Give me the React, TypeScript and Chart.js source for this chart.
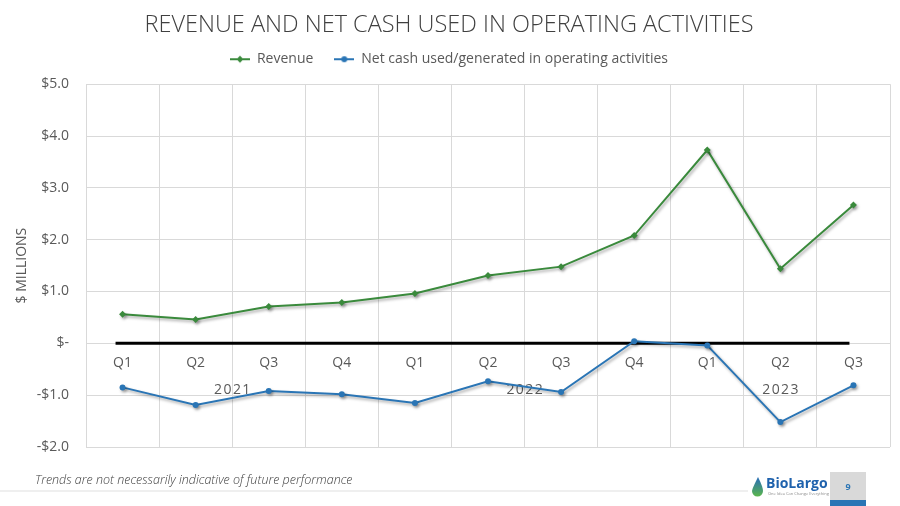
import React, { useEffect, useRef } from "react";
import { Chart, registerables } from "chart.js";

Chart.register(...registerables);

const quarters = ["Q1", "Q2", "Q3", "Q4", "Q1", "Q2", "Q3", "Q4", "Q1", "Q2", "Q3"];
const yearLabels = ["2021", "2022", "2023"];
const yearSpans = [4, 4, 3];
const revenue = [0.56, 0.46, 0.71, 0.79, 0.96, 1.31, 1.48, 2.08, 3.73, 1.44, 2.67];
const netCash = [-0.85, -1.19, -0.92, -0.98, -1.15, -0.73, -0.94, 0.04, -0.04, -1.52, -0.81];
const yMin = -2;
const yMax = 5;

const GREEN = "#3a8a3c";
const BLUE = "#2a75b5";
const TEXT = "#595959";
const FONT = "'Open Sans', 'Noto Sans', sans-serif";

function legendIcon(color: string, style: string) {
  const c = document.createElement("canvas");
  c.width = 20;
  c.height = 10;
  const ctx = c.getContext("2d")!;
  ctx.strokeStyle = color;
  ctx.lineWidth = 2;
  ctx.beginPath();
  ctx.moveTo(0, 5);
  ctx.lineTo(20, 5);
  ctx.stroke();
  ctx.fillStyle = color;
  ctx.beginPath();
  if (style === "diamond") {
    ctx.moveTo(10, 1.5);
    ctx.lineTo(13.5, 5);
    ctx.lineTo(10, 8.5);
    ctx.lineTo(6.5, 5);
    ctx.closePath();
  } else {
    ctx.arc(10, 5, 3, 0, Math.PI * 2);
  }
  ctx.fill();
  return c;
}

const legendSpacer = {
  id: "legendSpacer",
  beforeInit(chart: any) {
    const legend = chart.legend;
    if (!legend) return;
    const orig = legend.fit;
    legend.fit = function () {
      orig.call(this);
      this.height += 8;
    };
  },
};

const shadowPlugin = {
  id: "lineShadow",
  beforeDatasetDraw(chart: any) {
    const ctx = chart.ctx;
    ctx.save();
    ctx.shadowColor = "rgba(0,0,0,0.35)";
    ctx.shadowOffsetX = 1.5;
    ctx.shadowOffsetY = 2;
    ctx.shadowBlur = 3;
  },
  afterDatasetDraw(chart: any) {
    chart.ctx.restore();
  },
};

const axisPlugin = {
  id: "axisLabels",
  beforeDatasetsDraw(chart: any) {
    const ctx = chart.ctx;
    const x = chart.scales.x;
    const y = chart.scales.y;
    const y0 = y.getPixelForValue(0);
    ctx.save();
    ctx.strokeStyle = "#000000";
    ctx.lineWidth = 3;
    ctx.beginPath();
    ctx.moveTo(x.getPixelForValue(0) - 7, y0);
    ctx.lineTo(x.getPixelForValue(quarters.length - 1) - 4, y0);
    ctx.stroke();

    ctx.fillStyle = TEXT;
    ctx.font = `14px ${FONT}`;
    ctx.textAlign = "center";
    ctx.textBaseline = "middle";
    quarters.forEach((q, i) => {
      ctx.fillText(q, x.getPixelForValue(i), y0 + 20);
    });
    const half = (x.getPixelForValue(1) - x.getPixelForValue(0)) / 2;
    let start = 0;
    yearLabels.forEach((lab, k) => {
      const end = start + yearSpans[k] - 1;
      const cx = (x.getPixelForValue(start) - half + x.getPixelForValue(end) + half) / 2;
      ctx.fillText(lab.split("").join(String.fromCharCode(8202)), cx, y0 + 47);
      start = end + 1;
    });
    ctx.restore();
  },
  afterDraw(chart: any) {
    const ctx = chart.ctx;
    ctx.save();
    ctx.strokeStyle = "#efefef";
    ctx.lineWidth = 2;
    ctx.beginPath();
    ctx.moveTo(0, 491);
    ctx.lineTo(748, 491);
    ctx.stroke();
    ctx.fillStyle = "#404040";
    ctx.font = `italic 300 12.5px ${FONT}`;
    ctx.textAlign = "left";
    ctx.textBaseline = "middle";
    ctx.fillText("Trends are not necessarily indicative of future performance", 35, 480);
    const g = ctx.createLinearGradient(0, 478, 0, 497);
    g.addColorStop(0, "#2a6fb5");
    g.addColorStop(1, "#5cb848");
    ctx.fillStyle = g;
    ctx.beginPath();
    ctx.moveTo(758, 477);
    ctx.quadraticCurveTo(752, 489, 752, 491);
    ctx.arc(757.5, 491, 5.5, Math.PI, 0, true);
    ctx.quadraticCurveTo(763, 487, 758, 477);
    ctx.fill();
    ctx.fillStyle = "#1f62ad";
    ctx.font = `bold 14px ${FONT}`;
    ctx.fillText("BioLargo", 766, 484);
    ctx.fillStyle = "#8a8a8a";
    ctx.font = `4px ${FONT}`;
    ctx.fillText("One Idea Can Change Everything", 768, 494);
    ctx.fillStyle = "#d9d9d9";
    ctx.fillRect(830, 472, 36, 28);
    ctx.fillStyle = BLUE;
    ctx.fillRect(830, 500, 36, 6);
    ctx.fillStyle = "#2a75b5";
    ctx.font = `bold 9px ${FONT}`;
    ctx.textAlign = "center";
    ctx.fillText("9", 848, 487);
    ctx.restore();
  },
};

export default function App() {
  const ref = useRef<HTMLCanvasElement | null>(null);

  useEffect(() => {
    if (!ref.current) return;
    const chart = new Chart(ref.current, {
      type: "line",
      data: {
        labels: quarters,
        datasets: [
          {
            label: "Revenue",
            data: revenue,
            borderColor: GREEN,
            backgroundColor: GREEN,
            borderWidth: 2,
            pointStyle: "rectRot",
            pointRadius: 3.5,
            pointBorderWidth: 0,
            tension: 0,
          },
          {
            label: "Net cash used/generated in operating activities",
            data: netCash,
            borderColor: BLUE,
            backgroundColor: BLUE,
            borderWidth: 2,
            pointStyle: "circle",
            pointRadius: 3,
            pointBorderWidth: 0,
            tension: 0,
          },
        ],
      },
      options: {
        responsive: false,
        animation: false,
        layout: { padding: { left: 8, right: 10, top: 0, bottom: 59 } },
        plugins: {
          title: {
            display: true,
            text: "REVENUE AND NET CASH USED IN OPERATING ACTIVITIES",
            color: "#404040",
            font: { family: FONT, size: 23.5, weight: "300" as any },
            padding: { top: 11, bottom: 3 },
          },
          legend: {
            display: true,
            labels: {
              color: TEXT,
              font: { family: FONT, size: 14 },
              usePointStyle: true,
              pointStyleWidth: 20,
              boxHeight: 10,
              padding: 10,
              generateLabels: () => [
                {
                  text: "Revenue   ",
                  fillStyle: GREEN,
                  strokeStyle: GREEN,
                  pointStyle: legendIcon(GREEN, "diamond") as any,
                  lineWidth: 0,
                  hidden: false,
                  datasetIndex: 0,
                  fontColor: TEXT,
                },
                {
                  text: "Net cash used/generated in operating activities",
                  fillStyle: BLUE,
                  strokeStyle: BLUE,
                  pointStyle: legendIcon(BLUE, "circle") as any,
                  lineWidth: 0,
                  hidden: false,
                  datasetIndex: 1,
                  fontColor: TEXT,
                },
              ],
            },
          },
          tooltip: { enabled: false },
        },
        scales: {
          x: {
            offset: true,
            grid: { offset: true, color: "#d9d9d9", drawTicks: false, lineWidth: 1 },
            border: { display: false },
            ticks: { display: false },
          },
          y: {
            min: yMin,
            max: yMax,
            grid: { color: "#d9d9d9", drawTicks: false, lineWidth: 1 },
            border: { display: false },
            ticks: {
              stepSize: 1,
              color: TEXT,
              font: { family: FONT, size: 14 },
              padding: 17,
              callback: (v: any) =>
                v === 0 ? "$-" : v < 0 ? `-$${Math.abs(v).toFixed(1)}` : `$${v.toFixed(1)}`,
            },
            title: {
              display: true,
              text: "$ MILLIONS",
              color: TEXT,
              font: { family: FONT, size: 14 },
              padding: { top: 6, bottom: 0 },
            },
            afterFit: (scale: any) => {
              scale.width = 78;
            },
          },
        },
      },
      plugins: [legendSpacer, shadowPlugin, axisPlugin],
    });
    return () => chart.destroy();
  }, []);

  return (
    <div style={{ position: "fixed", left: 0, top: 0, width: 900, height: 506, background: "#fff" }}>
      <canvas ref={ref} width={900} height={506} style={{ width: 900, height: 506, display: "block" }} />
    </div>
  );
}
